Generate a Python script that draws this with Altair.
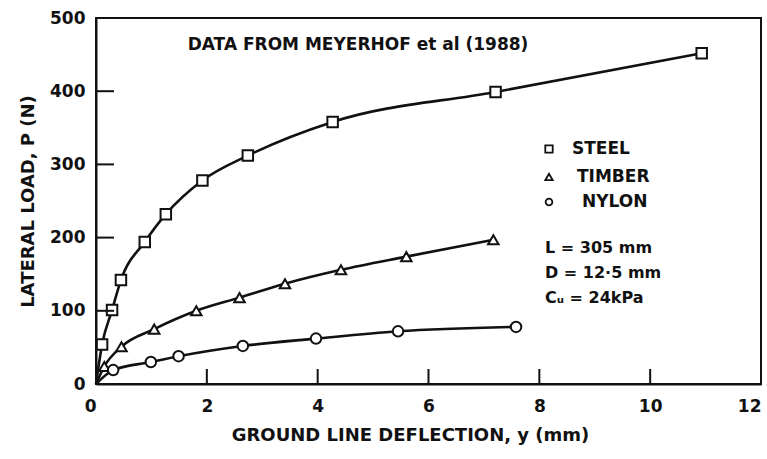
import altair as alt
import pandas as pd

# ---- data ----
series_names = ["STEEL", "TIMBER", "NYLON"]
series_shapes = ["square", "triangle-up", "circle"]

steel_x = [0.11, 0.29, 0.45, 0.88, 1.26, 1.92, 2.74, 4.27, 7.21, 10.93]
steel_y = [54, 101, 142, 194, 232, 278, 312, 358, 399, 452]

timber_x = [0.15, 0.46, 1.05, 1.81, 2.59, 3.41, 4.42, 5.60, 7.17]
timber_y = [24, 51, 75, 100, 118, 137, 156, 174, 197]

nylon_x = [0.31, 0.99, 1.49, 2.65, 3.97, 5.45, 7.58]
nylon_y = [19, 30, 38, 52, 62, 72, 78]

x_ticks = [0, 2, 4, 6, 8, 10, 12]
y_ticks = [0, 100, 200, 300, 400, 500]
x_inner_ticks = [2, 4, 6, 8, 10]
y_inner_ticks = [100, 200, 300, 400]

title_text = "DATA FROM MEYERHOF et al (1988)"
param_lines = ["L = 305 mm", "D = 12·5 mm", "Cᵤ = 24kPa"]

FONT = "DejaVu Sans"
INK = "#111"
W, H = 665, 366

rows = []
for name, xs_, ys_ in [("STEEL", steel_x, steel_y),
                       ("TIMBER", timber_x, timber_y),
                       ("NYLON", nylon_x, nylon_y)]:
    rows.append({"series": name, "x": 0.0, "y": 0.0, "pt": False, "order": 0})
    for i, (a, b) in enumerate(zip(xs_, ys_)):
        rows.append({"series": name, "x": a, "y": b, "pt": True, "order": i + 1})
df = pd.DataFrame(rows)

xs = alt.Scale(domain=[0, 12], nice=False, zero=True)
ys = alt.Scale(domain=[0, 500], nice=False, zero=True)

x_enc = alt.X("x:Q", scale=xs, axis=alt.Axis(
    values=x_ticks, format="d", ticks=False, grid=False, labelPadding=14,
    title="GROUND LINE DEFLECTION, y (mm)", titlePadding=12,
    titleX=314, titleAlign="center", titleAnchor="start",
    labelFont=FONT, labelFontSize=17, labelFontWeight="bold",
    titleFont=FONT, titleFontSize=18, titleFontWeight="bold",
    labelColor=INK, titleColor=INK, domainColor=INK, domainWidth=2,
    labelFlush=False,
    labelAlign={"expr": "datum.value == 12 || datum.value == 0 ? 'right' : 'center'"}))
y_enc = alt.Y("y:Q", scale=ys, axis=alt.Axis(
    values=y_ticks, format="d", ticks=False, grid=False, labelPadding=11,
    title="LATERAL LOAD, P (N)", titlePadding=12,
    labelFont=FONT, labelFontSize=17, labelFontWeight="bold",
    titleFont=FONT, titleFontSize=18, titleFontWeight="bold",
    labelColor=INK, titleColor=INK, domainColor=INK, domainWidth=2,
    labelFlush=False))

base = alt.Chart(df)

lines = base.mark_line(color=INK, strokeWidth=2.6, interpolate="monotone").encode(
    x=x_enc, y=y_enc, detail="series:N", order="order:Q")

points = base.transform_filter("datum.pt").mark_point(
    filled=False, fill="white", fillOpacity=1, stroke=INK, strokeWidth=2,
    size=110, opacity=1
).encode(
    x=alt.X("x:Q", scale=xs),
    y=alt.Y("y:Q", scale=ys),
    shape=alt.Shape("series:N",
                    scale=alt.Scale(domain=series_names, range=series_shapes),
                    legend=None),
)

xt = pd.DataFrame({"v": x_inner_ticks})
x_tick_marks = alt.Chart(xt).mark_rule(color=INK, strokeWidth=2).encode(
    x=alt.X("v:Q", scale=xs), y=alt.value(H), y2=alt.value(H - 15))

yt = pd.DataFrame({"v": y_inner_ticks})
y_tick_marks = alt.Chart(yt).mark_rule(color=INK, strokeWidth=2).encode(
    y=alt.Y("v:Q", scale=ys), x=alt.value(0), x2=alt.value(18))

title_mark = alt.Chart(pd.DataFrame({"t": [title_text]})).mark_text(
    font=FONT, fontSize=17, fontWeight="bold", color=INK, align="center",
    baseline="middle").encode(text="t:N", x=alt.value(262), y=alt.value(27))

# hand-drawn style key, inside the plot
key_layers = []
key_y = [131, 159, 184]
key_label_x = [476, 481, 486]
for name, shp, ky, lx in zip(series_names, series_shapes, key_y, key_label_x):
    kdf = pd.DataFrame({"t": [name]})
    key_layers.append(
        alt.Chart(kdf).mark_point(
            shape=shp, filled=False, fill="white", fillOpacity=1, stroke=INK,
            strokeWidth=1.8, size=55 if shp != "circle" else 45, opacity=1
        ).encode(x=alt.value(453), y=alt.value(ky)))
    key_layers.append(
        alt.Chart(kdf).mark_text(
            font=FONT, fontSize=17, fontWeight="bold", color=INK, align="left",
            baseline="middle").encode(text="t:N", x=alt.value(lx), y=alt.value(ky)))

param_layers = []
for i, line in enumerate(param_lines):
    param_layers.append(
        alt.Chart(pd.DataFrame({"t": [line]})).mark_text(
            font=FONT, fontSize=16, fontWeight="bold", color=INK, align="left",
            baseline="middle").encode(
            text="t:N", x=alt.value(449), y=alt.value(230 + 25 * i)))

chart = alt.layer(
    lines, points, x_tick_marks, y_tick_marks, title_mark, *key_layers, *param_layers
).properties(
    width=W, height=H,
    padding={"left": 96, "top": 18, "right": 6, "bottom": 75},
    autosize=alt.AutoSizeParams(type="none"),
).configure_view(stroke=INK, strokeWidth=2)

chart.save("out.html", embed_options={"renderer": "svg", "actions": False})
